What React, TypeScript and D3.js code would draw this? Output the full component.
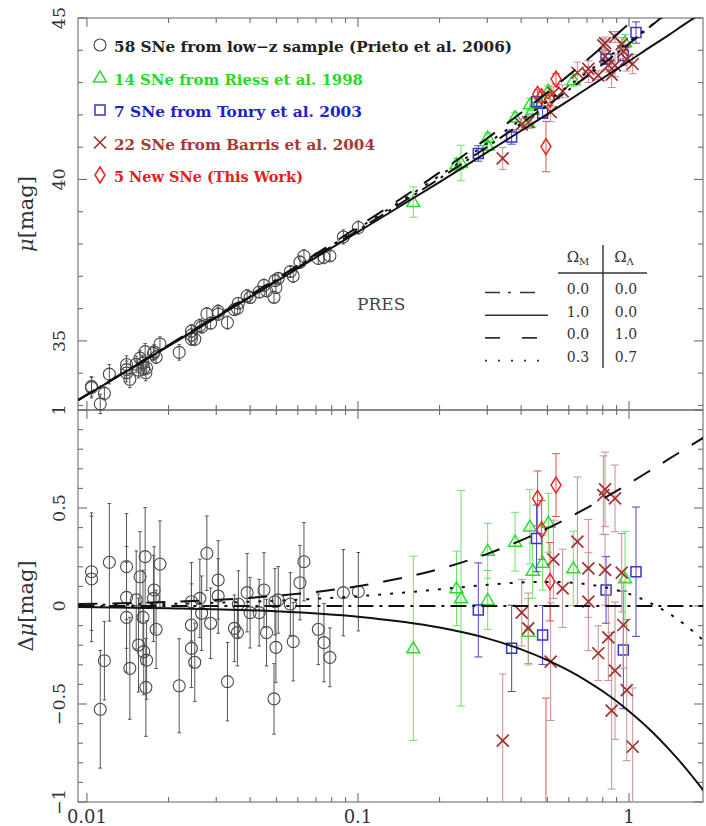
import React, { useEffect, useRef } from 'react';
import * as d3 from 'd3';

const W = 706;
const H = 826;

// model curves: z nodes, distance modulus of the empty
// universe (the dash-dot line) and each model's offset from it
const modelZ = [0.0093, 0.02, 0.05, 0.1, 0.2, 0.3, 0.4, 0.5, 0.6, 0.7, 0.8, 0.9, 1.0, 1.2, 1.4, 1.6, 1.9];
const muEmpty = [33.17, 34.85, 36.87, 38.43, 40.03, 41.01, 41.73, 42.30, 42.78, 43.20, 43.57, 43.90, 44.20, 44.74, 45.20, 45.62, 46.16];
const dmuEmpty = [0, 0, 0, 0, 0, 0, 0, 0, 0, 0, 0, 0, 0, 0, 0, 0, 0];
const dmuEdS = [-0.005, -0.011, -0.027, -0.055, -0.110, -0.165, -0.221, -0.276, -0.330, -0.383, -0.435, -0.486, -0.537, -0.634, -0.729, -0.819, -0.948];
const dmuDeSitter = [0.010, 0.021, 0.052, 0.101, 0.189, 0.266, 0.335, 0.396, 0.451, 0.501, 0.546, 0.587, 0.625, 0.692, 0.749, 0.799, 0.862];
const dmuLCDM = [0.005, 0.011, 0.027, 0.050, 0.085, 0.108, 0.120, 0.123, 0.120, 0.111, 0.098, 0.081, 0.062, 0.015, -0.037, -0.093, -0.181];

// supernovae: [z, Δμ, σ]
const lowZ: [number, number, number][] = [
  [0.0104, 0.175, 0.30], [0.0104, 0.138, 0.32], [0.0112, -0.527, 0.30], [0.0116, -0.279, 0.20],
  [0.0121, 0.223, 0.30], [0.0140, 0.201, 0.27], [0.0140, 0.044, 0.26], [0.0140, -0.058, 0.28],
  [0.0144, -0.318, 0.26], [0.0152, 0.031, 0.25], [0.0155, -0.199, 0.24], [0.0157, 0.149, 0.23],
  [0.0161, -0.058, 0.24], [0.0162, -0.233, 0.22], [0.0164, 0.252, 0.25], [0.0165, -0.415, 0.25],
  [0.0166, -0.276, 0.20], [0.0176, 0.039, 0.22], [0.0177, 0.082, 0.22], [0.0180, -0.119, 0.20],
  [0.0186, 0.214, 0.22], [0.0219, -0.407, 0.24], [0.0243, 0.022, 0.20], [0.0243, -0.097, 0.21],
  [0.0243, -0.216, 0.20], [0.0250, -0.287, 0.20], [0.0261, 0.039, 0.20], [0.0265, -0.037, 0.19],
  [0.0277, 0.269, 0.19], [0.0286, -0.088, 0.18], [0.0305, 0.133, 0.20], [0.0305, 0.051, 0.19],
  [0.0330, -0.386, 0.20], [0.0350, -0.114, 0.17], [0.0359, -0.136, 0.17], [0.0362, 0.010, 0.17],
  [0.0390, 0.068, 0.20], [0.0400, -0.034, 0.18], [0.0432, -0.034, 0.17], [0.0450, 0.082, 0.19],
  [0.0460, -0.136, 0.17], [0.0490, -0.474, 0.18], [0.0494, 0.022, 0.17], [0.0498, -0.211, 0.18],
  [0.0508, 0.031, 0.17], [0.0563, 0.010, 0.16], [0.0577, -0.182, 0.20], [0.0611, 0.119, 0.19],
  [0.0632, 0.226, 0.20], [0.0714, -0.119, 0.18], [0.0749, -0.187, 0.20], [0.0788, -0.262, 0.15],
  [0.0883, 0.068, 0.22], [0.1003, 0.073, 0.20],
];
const riess: [number, number, number][] = [
  [0.160, -0.216, 0.47], [0.231, 0.090, 0.19], [0.240, 0.039, 0.55], [0.301, 0.282, 0.14],
  [0.301, 0.031, 0.15], [0.380, 0.328, 0.15], [0.425, -0.131, 0.17], [0.431, 0.405, 0.19],
  [0.441, 0.180, 0.14], [0.480, 0.221, 0.14], [0.504, 0.425, 0.15], [0.623, 0.192, 0.19],
  [0.967, 0.141, 0.24],
];
const tonry: [number, number, number][] = [
  [0.278, -0.020, 0.24], [0.369, -0.216, 0.22], [0.456, 0.345, 0.17], [0.480, -0.148, 0.15],
  [0.823, 0.082, 0.17], [0.953, -0.224, 0.30], [1.061, 0.175, 0.33],
];
const barris: [number, number, number][] = [
  [0.342, -0.687, 0.34], [0.402, -0.034, 0.17], [0.425, -0.114, 0.18], [0.514, -0.284, 0.30],
  [0.526, 0.238, 0.20], [0.569, 0.090, 0.20], [0.645, 0.328, 0.33], [0.708, 0.192, 0.25],
  [0.708, 0.022, 0.25], [0.770, -0.241, 0.14], [0.804, 0.566, 0.20], [0.816, 0.595, 0.19],
  [0.816, 0.184, 0.18], [0.839, -0.160, 0.22], [0.863, -0.534, 0.40], [0.888, 0.549, 0.17],
  [0.888, -0.330, 0.35], [0.940, 0.170, 0.20], [0.953, -0.097, 0.22], [0.981, -0.429, 0.36],
  [1.032, -0.718, 0.30],
];
const newSNe: [number, number, number][] = [
  [0.460, 0.549, 0.14], [0.476, 0.388, 0.15], [0.494, -1.25, 0.78], [0.511, 0.124, 0.20],
  [0.538, 0.617, 0.16],
];

const legendLabels = [
  '58 SNe from low\u2212z sample (Prieto et al. 2006)',
  '14 SNe from Riess et al. 1998',
  '7 SNe from Tonry et al. 2003',
  '22 SNe from Barris et al. 2004',
  '5 New SNe (This Work)',
];
const legendWidths = [398, 249, 248, 261, 189];
const tableRows = [['0.0', '0.0'], ['1.0', '0.0'], ['0.0', '1.0'], ['0.3', '0.7']];
const muTickLabels = [35, 40, 45];
const dmuTickLabels = [-1, -0.5, 0, 0.5, 1];
const zTickLabels = [0.01, 0.1, 1];

type Shape = 'circle' | 'triangle' | 'square' | 'cross' | 'diamond';
type G = d3.Selection<SVGGElement, unknown, null, undefined>;

const samples: { data: [number, number, number][]; shape: Shape; color: string; bar: string; cap: number; text: string }[] = [
  { data: lowZ, shape: 'circle', color: '#4a4a4a', bar: '#555', cap: 1.8, text: '#222' },
  { data: riess, shape: 'triangle', color: '#2edc2e', bar: '#6ee06e', cap: 4, text: '#2ad82a' },
  { data: tonry, shape: 'square', color: '#3535d0', bar: '#4646cc', cap: 4, text: '#2222c4' },
  { data: barris, shape: 'cross', color: '#a23030', bar: '#c49090', cap: 4, text: '#a83838' },
  { data: newSNe, shape: 'diamond', color: '#e82424', bar: '#e45050', cap: 4, text: '#e62020' },
];

const models = [
  { d: dmuEmpty, dash: '16,6,3,6' },
  { d: dmuEdS, dash: null },
  { d: dmuDeSitter, dash: '19,15' },
  { d: dmuLCDM, dash: '3,9' },
];

function marker(g: G, shape: Shape, cx: number, cy: number, color: string) {
  const w = shape === 'circle' ? 1.1 : shape === 'cross' ? 1.7 : 1.5;
  if (shape === 'circle') {
    g.append('circle').attr('cx', cx).attr('cy', cy).attr('r', 6)
      .attr('fill', 'none').attr('stroke', color).attr('stroke-width', w);
    return;
  }
  let d = '';
  if (shape === 'triangle') d = `M${cx},${cy - 6.5}L${cx + 6.5},${cy + 4.5}L${cx - 6.5},${cy + 4.5}Z`;
  if (shape === 'square') d = `M${cx - 5},${cy - 5}h10v10h-10Z`;
  if (shape === 'cross') d = `M${cx - 6},${cy - 6}L${cx + 6},${cy + 6}M${cx - 6},${cy + 6}L${cx + 6},${cy - 6}`;
  if (shape === 'diamond') d = `M${cx},${cy - 8}L${cx + 5},${cy}L${cx},${cy + 8}L${cx - 5},${cy}Z`;
  g.append('path').attr('d', d).attr('fill', 'none').attr('stroke', color).attr('stroke-width', w);
}

export default function App() {
  const svgRef = useRef<SVGSVGElement>(null);

  useEffect(() => {
    document.body.style.margin = '0';
    if (!svgRef.current) return;
    const svg = d3.select(svgRef.current);
    svg.selectAll('*').remove();

    const left = 78, right = 703, top = 18, mid = 410, bottom = 802;
    const x = d3.scaleLog().domain([0.00927, 1.875]).range([left, right]);
    const yTop = d3.scaleLinear().domain([32.86, 45]).range([mid, top]);
    const yBot = d3.scaleLinear().domain([-1, 1]).range([bottom, mid]);
    const baseMu = d3.scaleLog().domain(modelZ).range(muEmpty);

    const defs = svg.append('defs');
    defs.append('clipPath').attr('id', 'clipTop').append('rect')
      .attr('x', left).attr('y', top).attr('width', right - left).attr('height', mid - top);
    defs.append('clipPath').attr('id', 'clipBot').append('rect')
      .attr('x', left).attr('y', mid).attr('width', right - left).attr('height', bottom - mid);

    const serif = 'DejaVu Serif, Liberation Serif, serif';

    // frames and ticks
    const frame = svg.append('g').attr('stroke', '#6e6e6e').attr('stroke-width', 1.1).attr('fill', 'none');
    const drawPanel = (y: d3.ScaleLinear<number, number>, y0: number, y1: number, yt: number[], isMajorY: (t: number) => boolean) => {
      frame.append('rect').attr('x', left).attr('y', y0).attr('width', right - left).attr('height', y1 - y0);
      x.ticks().forEach((t) => {
        const lg = Math.log10(t);
        const len = Math.abs(lg - Math.round(lg)) < 1e-6 ? 9 : 5;
        frame.append('line').attr('x1', x(t)).attr('x2', x(t)).attr('y1', y1).attr('y2', y1 - len);
        frame.append('line').attr('x1', x(t)).attr('x2', x(t)).attr('y1', y0).attr('y2', y0 + len);
      });
      yt.forEach((t) => {
        const len = isMajorY(t) ? 9 : 5;
        frame.append('line').attr('x1', left).attr('x2', left + len).attr('y1', y(t)).attr('y2', y(t));
        frame.append('line').attr('x1', right).attr('x2', right - len).attr('y1', y(t)).attr('y2', y(t));
      });
    };
    drawPanel(yTop, top, mid, yTop.ticks(12), (t) => t % 5 === 0);
    drawPanel(yBot, mid, bottom, yBot.ticks(20), (t) => Math.abs(t * 2 - Math.round(t * 2)) < 1e-6);

    // tick labels
    const labels = svg.append('g').attr('font-family', serif).attr('font-size', 17.5).attr('fill', '#333');
    const fmt = (t: number) => (t < 0 ? '\u2212' + Math.abs(t) : String(t));
    muTickLabels.forEach((t) => {
      labels.append('text').attr('transform', `translate(65,${yTop(t)}) rotate(-90)`)
        .attr('text-anchor', 'middle').text(fmt(t));
    });
    dmuTickLabels.forEach((t) => {
      labels.append('text').attr('transform', `translate(65,${yBot(t)}) rotate(-90)`)
        .attr('text-anchor', 'middle').text(fmt(t));
    });
    zTickLabels.forEach((t) => {
      labels.append('text').attr('x', x(t)).attr('y', 823).attr('font-size', 18)
        .attr('text-anchor', 'middle').text(String(t));
    });

    // axis titles
    const title = (cy: number, pre: string) => {
      const t = svg.append('text').attr('transform', `translate(33,${cy}) rotate(-90)`)
        .attr('text-anchor', 'middle').attr('font-family', serif).attr('font-size', 21).attr('fill', '#333');
      if (pre) t.append('tspan').text(pre);
      t.append('tspan').attr('font-style', 'italic').text('\u03bc');
      t.append('tspan').text('[mag]');
    };
    title((top + mid) / 2, '');
    title((mid + bottom) / 2, '\u0394');

    // data
    const drawData = (g: G, y: d3.ScaleLinear<number, number>, val: (z: number, d: number) => number) => {
      samples.forEach((s) => {
        const sg = g.append('g');
        s.data.forEach(([z, d, e]) => {
          const cx = x(z);
          const v = val(z, d);
          const ya = y(v - e), yb = y(v + e);
          sg.append('path')
            .attr('d', `M${cx},${ya}V${yb}M${cx - s.cap},${ya}h${2 * s.cap}M${cx - s.cap},${yb}h${2 * s.cap}`)
            .attr('stroke', s.bar).attr('stroke-width', 1).attr('fill', 'none');
        });
        s.data.forEach(([z, d]) => marker(sg, s.shape, x(z), y(val(z, d)), s.color));
      });
    };
    const gTop = svg.append('g');
    drawData(gTop, yTop, (z, d) => baseMu(z) + d);
    const gBot = svg.append('g').attr('clip-path', 'url(#clipBot)');
    drawData(gBot, yBot, (_z, d) => d);

    // model curves
    const curveTop = svg.append('g').attr('clip-path', 'url(#clipTop)');
    const curveBot = svg.append('g').attr('clip-path', 'url(#clipBot)');
    models.forEach((m) => {
      const lineTop = d3.line<number>().x((_, i) => x(modelZ[i])).y((v, i) => yTop(muEmpty[i] + v)).curve(d3.curveMonotoneX);
      const lineBot = d3.line<number>().x((_, i) => x(modelZ[i])).y((v) => yBot(v)).curve(d3.curveMonotoneX);
      [[curveTop, lineTop], [curveBot, lineBot]].forEach(([g, ln]) => {
        const p = (g as G).append('path').attr('d', (ln as d3.Line<number>)(m.d) as string)
          .attr('fill', 'none').attr('stroke', '#111').attr('stroke-width', 2);
        if (m.dash) p.attr('stroke-dasharray', m.dash);
      });
    });

    // sample legend
    const leg = svg.append('g');
    samples.forEach((s, i) => {
      const cy = 45 + i * 32.5;
      marker(leg, s.shape, 100, cy, s.color);
      leg.append('text').attr('x', 114).attr('y', cy + 7)
        .attr('font-family', serif).attr('font-weight', 'bold').attr('font-size', 15)
        .attr('fill', s.text).attr('textLength', legendWidths[i]).attr('lengthAdjust', 'spacingAndGlyphs')
        .text(legendLabels[i]);
    });

    svg.append('text').attr('x', 357).attr('y', 310).attr('font-family', serif)
      .attr('font-size', 17).attr('fill', '#444').text('PRES');

    // cosmology table
    const tab = svg.append('g').attr('font-family', serif).attr('fill', '#333');
    tab.append('line').attr('x1', 603).attr('x2', 603).attr('y1', 245).attr('y2', 368).attr('stroke', '#333').attr('stroke-width', 1.4);
    tab.append('line').attr('x1', 558).attr('x2', 647).attr('y1', 273).attr('y2', 273).attr('stroke', '#333').attr('stroke-width', 1.4);
    [['M', 578], ['\u039b', 624]].forEach(([sub, cx]) => {
      const t = tab.append('text').attr('x', cx as number).attr('y', 262).attr('text-anchor', 'middle').attr('font-size', 15);
      t.append('tspan').text('\u03a9');
      t.append('tspan').attr('font-size', 10).attr('dy', 3).text(sub as string);
    });
    tableRows.forEach((row, i) => {
      const by = 294 + i * 22.7;
      tab.append('text').attr('x', 578).attr('y', by).attr('text-anchor', 'middle').attr('font-size', 14).text(row[0]);
      tab.append('text').attr('x', 626).attr('y', by).attr('text-anchor', 'middle').attr('font-size', 14).text(row[1]);
      const p = tab.append('line').attr('x1', 485).attr('x2', i === 1 ? 548 : 542).attr('y1', by - 1.5).attr('y2', by - 1.5)
        .attr('stroke', '#333').attr('stroke-width', 1.6);
      const dash = ['15,8,3,9', null, '15,22', '2,11'][i];
      if (dash) p.attr('stroke-dasharray', dash);
    });
  }, []);

  return <svg ref={svgRef} width={W} height={H} style={{ display: 'block', background: '#fff' }} />;
}
